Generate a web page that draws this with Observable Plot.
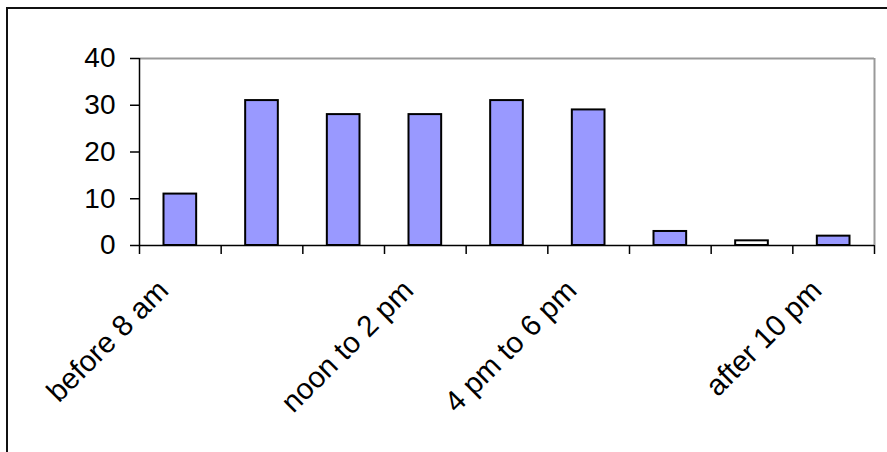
<!DOCTYPE html>
<html>
<head>
<meta charset="utf-8">
<script src="https://cdn.jsdelivr.net/npm/d3@7"></script>
<script src="https://cdn.jsdelivr.net/npm/@observablehq/plot@0.6"></script>
<style>
  html, body { margin: 0; padding: 0; background: #fff; overflow: hidden; }
  #wrap { position: relative; width: 887px; height: 452px; }
  #wrap svg { position: absolute; left: 0; top: 0; }
  /* chart-area border: only its left and top edges fall inside the page */
  #edge { position: absolute; left: 6px; top: 7px; width: 1000px; height: 1000px;
          border-left: 2px solid #111; border-top: 2px solid #111; box-sizing: border-box; }
</style>
</head>
<body>
<div id="wrap"><div id="edge"></div></div>
<script>
// Category labels as printed under the axis (unlabelled slots are blank)
const labels = ["before 8 am", "", "", "noon to 2 pm", "", "4 pm to 6 pm", "", "", "after 10 pm"];
// Counts per time slot
const values = [11, 31, 28, 28, 31, 29, 3, 1, 2];
// Value axis ticks
const yTicks = [0, 10, 20, 30, 40];

// Slot drawn without fill
const hollowSlots = new Set([7]);

const rows = values.map((v, i) => ({i, label: labels[i], value: v}));
const half = 0.2; // half bar width in slot units (gap width 150%)
const boundaries = [...values.keys()].map(i => i - 0.5).concat(values.length - 0.5);

const chart = Plot.plot({
  width: 887,
  height: 452,
  marginLeft: 139,
  marginRight: 13,
  marginTop: 58,
  marginBottom: 207,
  style: {
    fontFamily: "'Liberation Sans', Arial, sans-serif",
    fontSize: "28px",
    background: "transparent",
    color: "#000"
  },
  x: {type: "linear", domain: [-0.5, values.length - 0.5]},
  y: {domain: [0, 40]},
  marks: [
    // plot-area border (top and right)
    Plot.ruleY([40], {stroke: "#999", strokeWidth: 2}),
    Plot.ruleX([values.length - 0.5], {stroke: "#999", strokeWidth: 2}),
    Plot.rect(rows, {
      x1: d => d.i - half,
      x2: d => d.i + half,
      y1: 0,
      y2: "value",
      fill: d => hollowSlots.has(d.i) ? "#fff" : "#9999ff",
      stroke: "#000",
      strokeWidth: 2
    }),
    // axis lines
    Plot.ruleX([-0.5], {stroke: "#000", strokeWidth: 1.5}),
    Plot.ruleY([0], {stroke: "#000", strokeWidth: 1.5}),
    Plot.axisY({ticks: yTicks, tickSize: 9, tickPadding: 15, strokeWidth: 1.5, fontSize: 28, label: null}),
    Plot.axisX({ticks: boundaries, tickSize: 9, strokeWidth: 1.5, tickFormat: () => "", label: null}),
    Plot.text(rows.filter(d => d.label), {
      x: "i",
      y: 0,
      text: "label",
      rotate: -45,
      textAnchor: "end",
      lineAnchor: "middle",
      dx: -17,
      dy: 40,
      fontSize: 29.5,
      fill: "#000"
    })
  ]
});

document.getElementById("wrap").appendChild(chart);
</script>
</body>
</html>
